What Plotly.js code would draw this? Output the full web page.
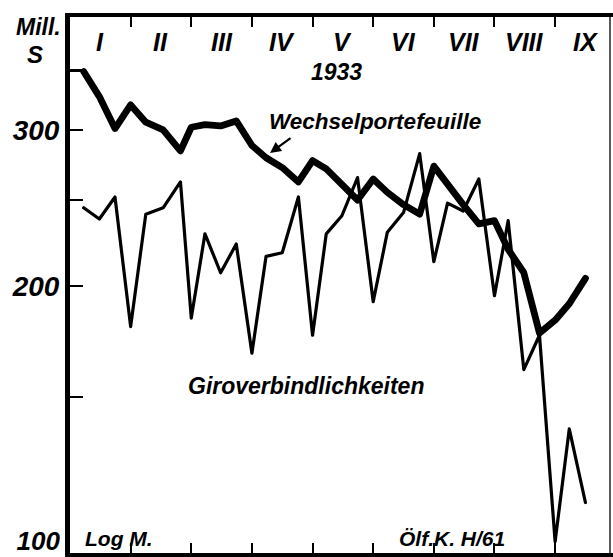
<!DOCTYPE html>
<html><head><meta charset="utf-8">
<script src="https://cdn.plot.ly/plotly-3.0.1.min.js"></script>
<style>html,body{margin:0;padding:0;background:#fff}#chart{width:613px;height:557px}
#chart path.js-line{stroke-linejoin:round;stroke-linecap:round}</style>
</head><body><div id="chart"></div>
<script>
// Quarter-monthly statement dates, 1933
const dates = ['1933-01-07','1933-01-15','1933-01-23','1933-01-31',
  '1933-02-07','1933-02-15','1933-02-23','1933-02-28',
  '1933-03-07','1933-03-15','1933-03-23','1933-03-31',
  '1933-04-07','1933-04-15','1933-04-23','1933-04-30',
  '1933-05-07','1933-05-15','1933-05-23','1933-05-31',
  '1933-06-07','1933-06-15','1933-06-23','1933-06-30',
  '1933-07-07','1933-07-15','1933-07-23','1933-07-31',
  '1933-08-07','1933-08-15','1933-08-23','1933-08-31',
  '1933-09-07','1933-09-15'];
// Mill. S
const wechsel = [349,327,301,320,306,300,284,302,304,303,307,288,279,272,262,277,
  271,260,250,264,255,247,241,273,260,247,235,237,220,207,177,183,191,204];
const giro = [245,238,252,180,241,245,262,184,229,207,223,168,216,218,252,176,
  229,240,265,192,230,242,282,213,248,243,264,195,237,161,176,103,138,114];
const monthLabels = ['I','II','III','IV','V','VI','VII','VIII','IX'];
const monthBoundaries = [1,2,3,4,5,6,7,8];
const yTickVals = [150,200,250,300,350];
const yTickText = ['','200','','300',''];
const bottomLabel = '100';
const yearLabel = '1933';
const unitLabels = ['Mill.','S'];
const seriesNames = ['Wechselportefeuille','Giroverbindlichkeiten'];
const footLeft = 'Log M.';
const footRight = 'Ölf.K. H/61';

function toMonthPos(s){
  const p = s.split('-').map(Number);
  const dim = new Date(p[0], p[1], 0).getDate();
  return (p[1]-1) + p[2]/dim;
}
const x = dates.map(toMonthPos);

const W = 613, H = 557, L = 70, T = 17, B = 4;
const plotW = W - L, plotH = H - T - B;
const pxPerMonth = 60.64;
const xMax = plotW / pxPerMonth;
const pxPerDecade = 887;
const yMax = 2 + plotH / pxPerDecade;
const px = v => (v - L) / plotW;          // pixel -> paper x
const py = v => (H - B - v) / plotH;      // pixel -> paper y
const dx = v => (v - L) / pxPerMonth;     // pixel -> month position
const bottomLabelPos = Math.pow(10, 2 + (H - B - 541) / pxPerDecade); // lift "100" label fully into view

const F = {family:'Liberation Sans, Arial, sans-serif', color:'#000', style:'italic', weight:700};
const f = (size, extra) => Object.assign({}, F, {size:size}, extra||{});

const traces = [
  {x:x, y:giro, type:'scatter', mode:'lines', name:seriesNames[1],
   line:{color:'#000', width:3.2}},
  {x:x, y:wechsel, type:'scatter', mode:'lines', name:seriesNames[0],
   line:{color:'#000', width:6.8}},
  {x:[], y:[], type:'scatter', mode:'lines', yaxis:'y2', hoverinfo:'skip'}
];

function txt(text, xv, xref, ypix, size, extra){
  return Object.assign({text:text, x:xv, xref:xref, y:py(ypix), yref:'paper', showarrow:false,
    xanchor:'center', yanchor:'middle', font:f(size)}, extra||{});
}
const annotations = monthLabels.map((m,i) => txt(m, i+0.5, 'x', 42, 25));
annotations.push(
  txt(yearLabel, dx(336), 'x', 72, 23),
  txt(unitLabels[0], px(38), 'paper', 27, 23),
  txt(unitLabels[1], px(35), 'paper', 54, 24),
  txt(seriesNames[0], dx(375), 'x', 121, 22.5),
  txt(seriesNames[1], dx(306), 'x', 386, 23),
  txt(footLeft, px(119), 'paper', 538, 21),
  txt(footRight, px(452), 'paper', 538, 21),
  {text:'', x:dx(270), xref:'x', y:py(153), yref:'paper', showarrow:true,
   ax:22, ay:-16, arrowhead:2, arrowsize:1, arrowwidth:2.2, arrowcolor:'#000'}
);

const yCommon = {type:'log', range:[2,yMax], showgrid:false, zeroline:false, fixedrange:true,
  tickfont:f(28), ticklabeloverflow:'allow'};
const layout = {
  width:W, height:H, margin:{l:L, r:0, t:T, b:B, pad:0},
  paper_bgcolor:'#fff', plot_bgcolor:'#fff', showlegend:false,
  xaxis:{range:[0,xMax], showline:true, linewidth:4.5, linecolor:'#000', mirror:'ticks',
    ticks:'inside', ticklen:10, tickwidth:2, tickcolor:'#000', tickvals:monthBoundaries,
    showticklabels:false, showgrid:false, zeroline:false, fixedrange:true},
  yaxis:Object.assign({}, yCommon, {showline:true, linewidth:5, linecolor:'#000',
    ticks:'inside', ticklen:13, tickwidth:2.5, tickcolor:'#000',
    tickvals:yTickVals, ticktext:yTickText}),
  yaxis2:Object.assign({}, yCommon, {overlaying:'y', side:'left', anchor:'x', showline:false,
    ticks:'', tickvals:[bottomLabelPos], ticktext:[bottomLabel], ticklabelstandoff:9,
    tickfont:f(26)}),
  shapes:[{type:'line', xref:'paper', yref:'paper', x0:px(610), x1:px(610), y0:0, y1:1,
    line:{color:'#222', width:1.5}}],
  annotations:annotations
};
Plotly.newPlot('chart', traces, layout, {displayModeBar:false, staticPlot:true});
</script>
</body></html>
